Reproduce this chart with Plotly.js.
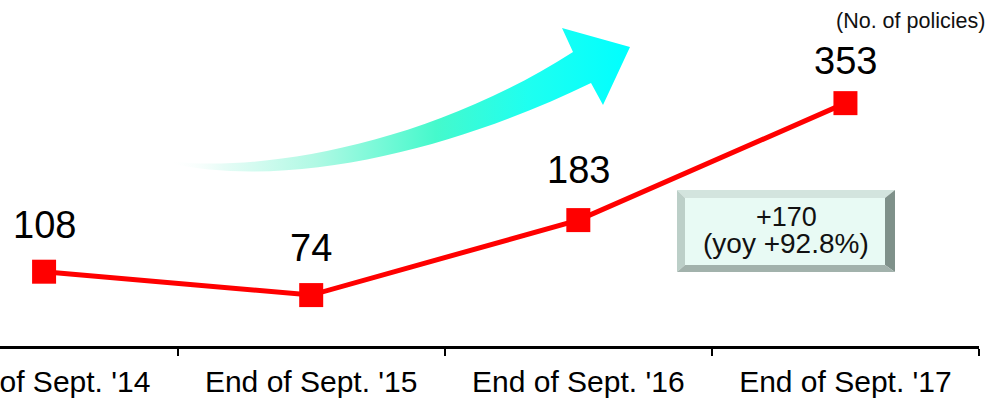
<!DOCTYPE html>
<html>
<head>
<meta charset="utf-8">
<script src="https://cdn.plot.ly/plotly-3.0.1.min.js"></script>
<style>
  html, body { margin: 0; padding: 0; background: #fff; }
  #chart { width: 994px; height: 398px; }
</style>
</head>
<body>
<div id="chart"></div>
<script>
// Number of policies in force at the end of each September
const categories = ["End of Sept. '14", "End of Sept. '15", "End of Sept. '16", "End of Sept. '17"];
const policies = [108, 74, 183, 353];
const unitLabel = "(No. of policies)";
const changeLines = ["+170", "(yoy +92.8%)"];

// Vertical lift (px) of each value label above its marker
const labelLift = [47, 47, 50, 42];

const W = 994, H = 398;
const M = { l: 0, r: 15, t: 10, b: 52, pad: 0 };
const plotW = W - M.l - M.r, plotH = H - M.t - M.b;
const px = x => (x - M.l) / plotW;
const py = y => (H - M.b - y) / plotH;
const FONT = "Arial, 'Liberation Sans', sans-serif";

// Curved growth arrow with a fading gradient, drawn as an SVG image
const arrowSvg =
  '<svg xmlns="http://www.w3.org/2000/svg" width="480" height="170" viewBox="160 20 480 170">' +
  '<defs><linearGradient id="g" x1="168" y1="0" x2="630" y2="0" gradientUnits="userSpaceOnUse">' +
  '<stop offset="0" stop-color="#ffffff" stop-opacity="0"/>' +
  '<stop offset="0.12" stop-color="#e6fcf6"/>' +
  '<stop offset="0.32" stop-color="#b0f9e4"/>' +
  '<stop offset="0.58" stop-color="#45f9cc"/>' +
  '<stop offset="0.78" stop-color="#1efff0"/>' +
  '<stop offset="1" stop-color="#00ffff"/>' +
  '</linearGradient></defs>' +
  '<path fill="url(#g)" d="M168,161 C250,172 420,150 573,52 L562,28 L630,47 L603,105 L591,83 C470,142 300,192 168,163 Z"/>' +
  '</svg>';
const arrowSrc = 'data:image/svg+xml;charset=utf-8,' + encodeURIComponent(arrowSvg);

// Bevelled callout box
const bx0 = 677, bx1 = 895, by0 = 190, by1 = 272, bev = 8;
const poly = pts => 'M' + pts.map(p => px(p[0]).toFixed(5) + ',' + py(p[1]).toFixed(5)).join(' L') + ' Z';
const boxShapes = [
  { type: 'path', path: poly([[bx0, by0], [bx1, by0], [bx1 - bev - 2, by0 + bev], [bx0 + bev, by0 + bev]]), fillcolor: '#d3e4de' },
  { type: 'path', path: poly([[bx0, by0], [bx0 + bev, by0 + bev], [bx0 + bev, by1 - bev + 1], [bx0, by1]]), fillcolor: '#bccfc8' },
  { type: 'path', path: poly([[bx1, by0], [bx1, by1], [bx1 - bev - 2, by1 - bev + 1], [bx1 - bev - 2, by0 + bev]]), fillcolor: '#7f918a' },
  { type: 'path', path: poly([[bx0, by1], [bx0 + bev, by1 - bev + 1], [bx1 - bev - 2, by1 - bev + 1], [bx1, by1]]), fillcolor: '#a2b2ac' },
  { type: 'rect', x0: px(bx0 + bev), x1: px(bx1 - bev - 2), y0: py(by0 + bev), y1: py(by1 - bev + 1), fillcolor: '#e8faf4' }
].map(s => Object.assign({ xref: 'paper', yref: 'paper', line: { width: 0 }, layer: 'below' }, s));

const valueLabels = policies.map((v, i) => ({
  x: categories[i], y: v, xref: 'x', yref: 'y',
  text: String(v), showarrow: false, yshift: labelLift[i],
  font: { family: FONT, size: 38, color: '#000' }
}));

const boxCx = (bx0 + bx1) / 2;
const boxLabels = [
  { text: changeLines[0], y: py(217), size: 27 },
  { text: changeLines[1], y: py(243), size: 28 }
].map(a => ({
  x: px(boxCx), y: a.y, xref: 'paper', yref: 'paper', text: a.text,
  showarrow: false, xanchor: 'center', yanchor: 'middle',
  font: { family: FONT, size: a.size, color: '#111' }
}));

const unitAnn = {
  x: px(910), y: py(21), xref: 'paper', yref: 'paper', text: unitLabel,
  showarrow: false, xanchor: 'center', yanchor: 'middle',
  font: { family: FONT, size: 21.5, color: '#111' }
};

const trace = {
  type: 'scatter', mode: 'lines+markers',
  x: categories, y: policies,
  line: { color: '#ff0000', width: 5 },
  marker: { symbol: 'square', size: 24, color: '#ff0000', line: { width: 0 } },
  cliponaxis: false, hoverinfo: 'skip'
};

const layout = {
  width: W, height: H, margin: M,
  paper_bgcolor: '#fff', plot_bgcolor: '#fff',
  showlegend: false,
  font: { family: FONT },
  xaxis: {
    type: 'category', range: [-0.165, 3.5],
    tickson: 'boundaries', ticks: 'outside', ticklen: 7, tickwidth: 2, tickcolor: '#000',
    ticklabelstandoff: 7,
    showline: true, linewidth: 3, linecolor: '#000',
    showgrid: false, zeroline: false, fixedrange: true,
    tickfont: { family: FONT, size: 30, color: '#000' }
  },
  yaxis: { range: [0, plotH / 0.688], visible: false, fixedrange: true },
  images: [{
    source: arrowSrc, xref: 'paper', yref: 'paper',
    x: px(160), y: py(20), sizex: px(640) - px(160), sizey: py(20) - py(190),
    xanchor: 'left', yanchor: 'top', sizing: 'stretch', layer: 'below'
  }],
  shapes: boxShapes,
  annotations: valueLabels.concat(boxLabels, [unitAnn])
};

Plotly.newPlot('chart', [trace], layout, { staticPlot: true, displayModeBar: false });
</script>
</body>
</html>
